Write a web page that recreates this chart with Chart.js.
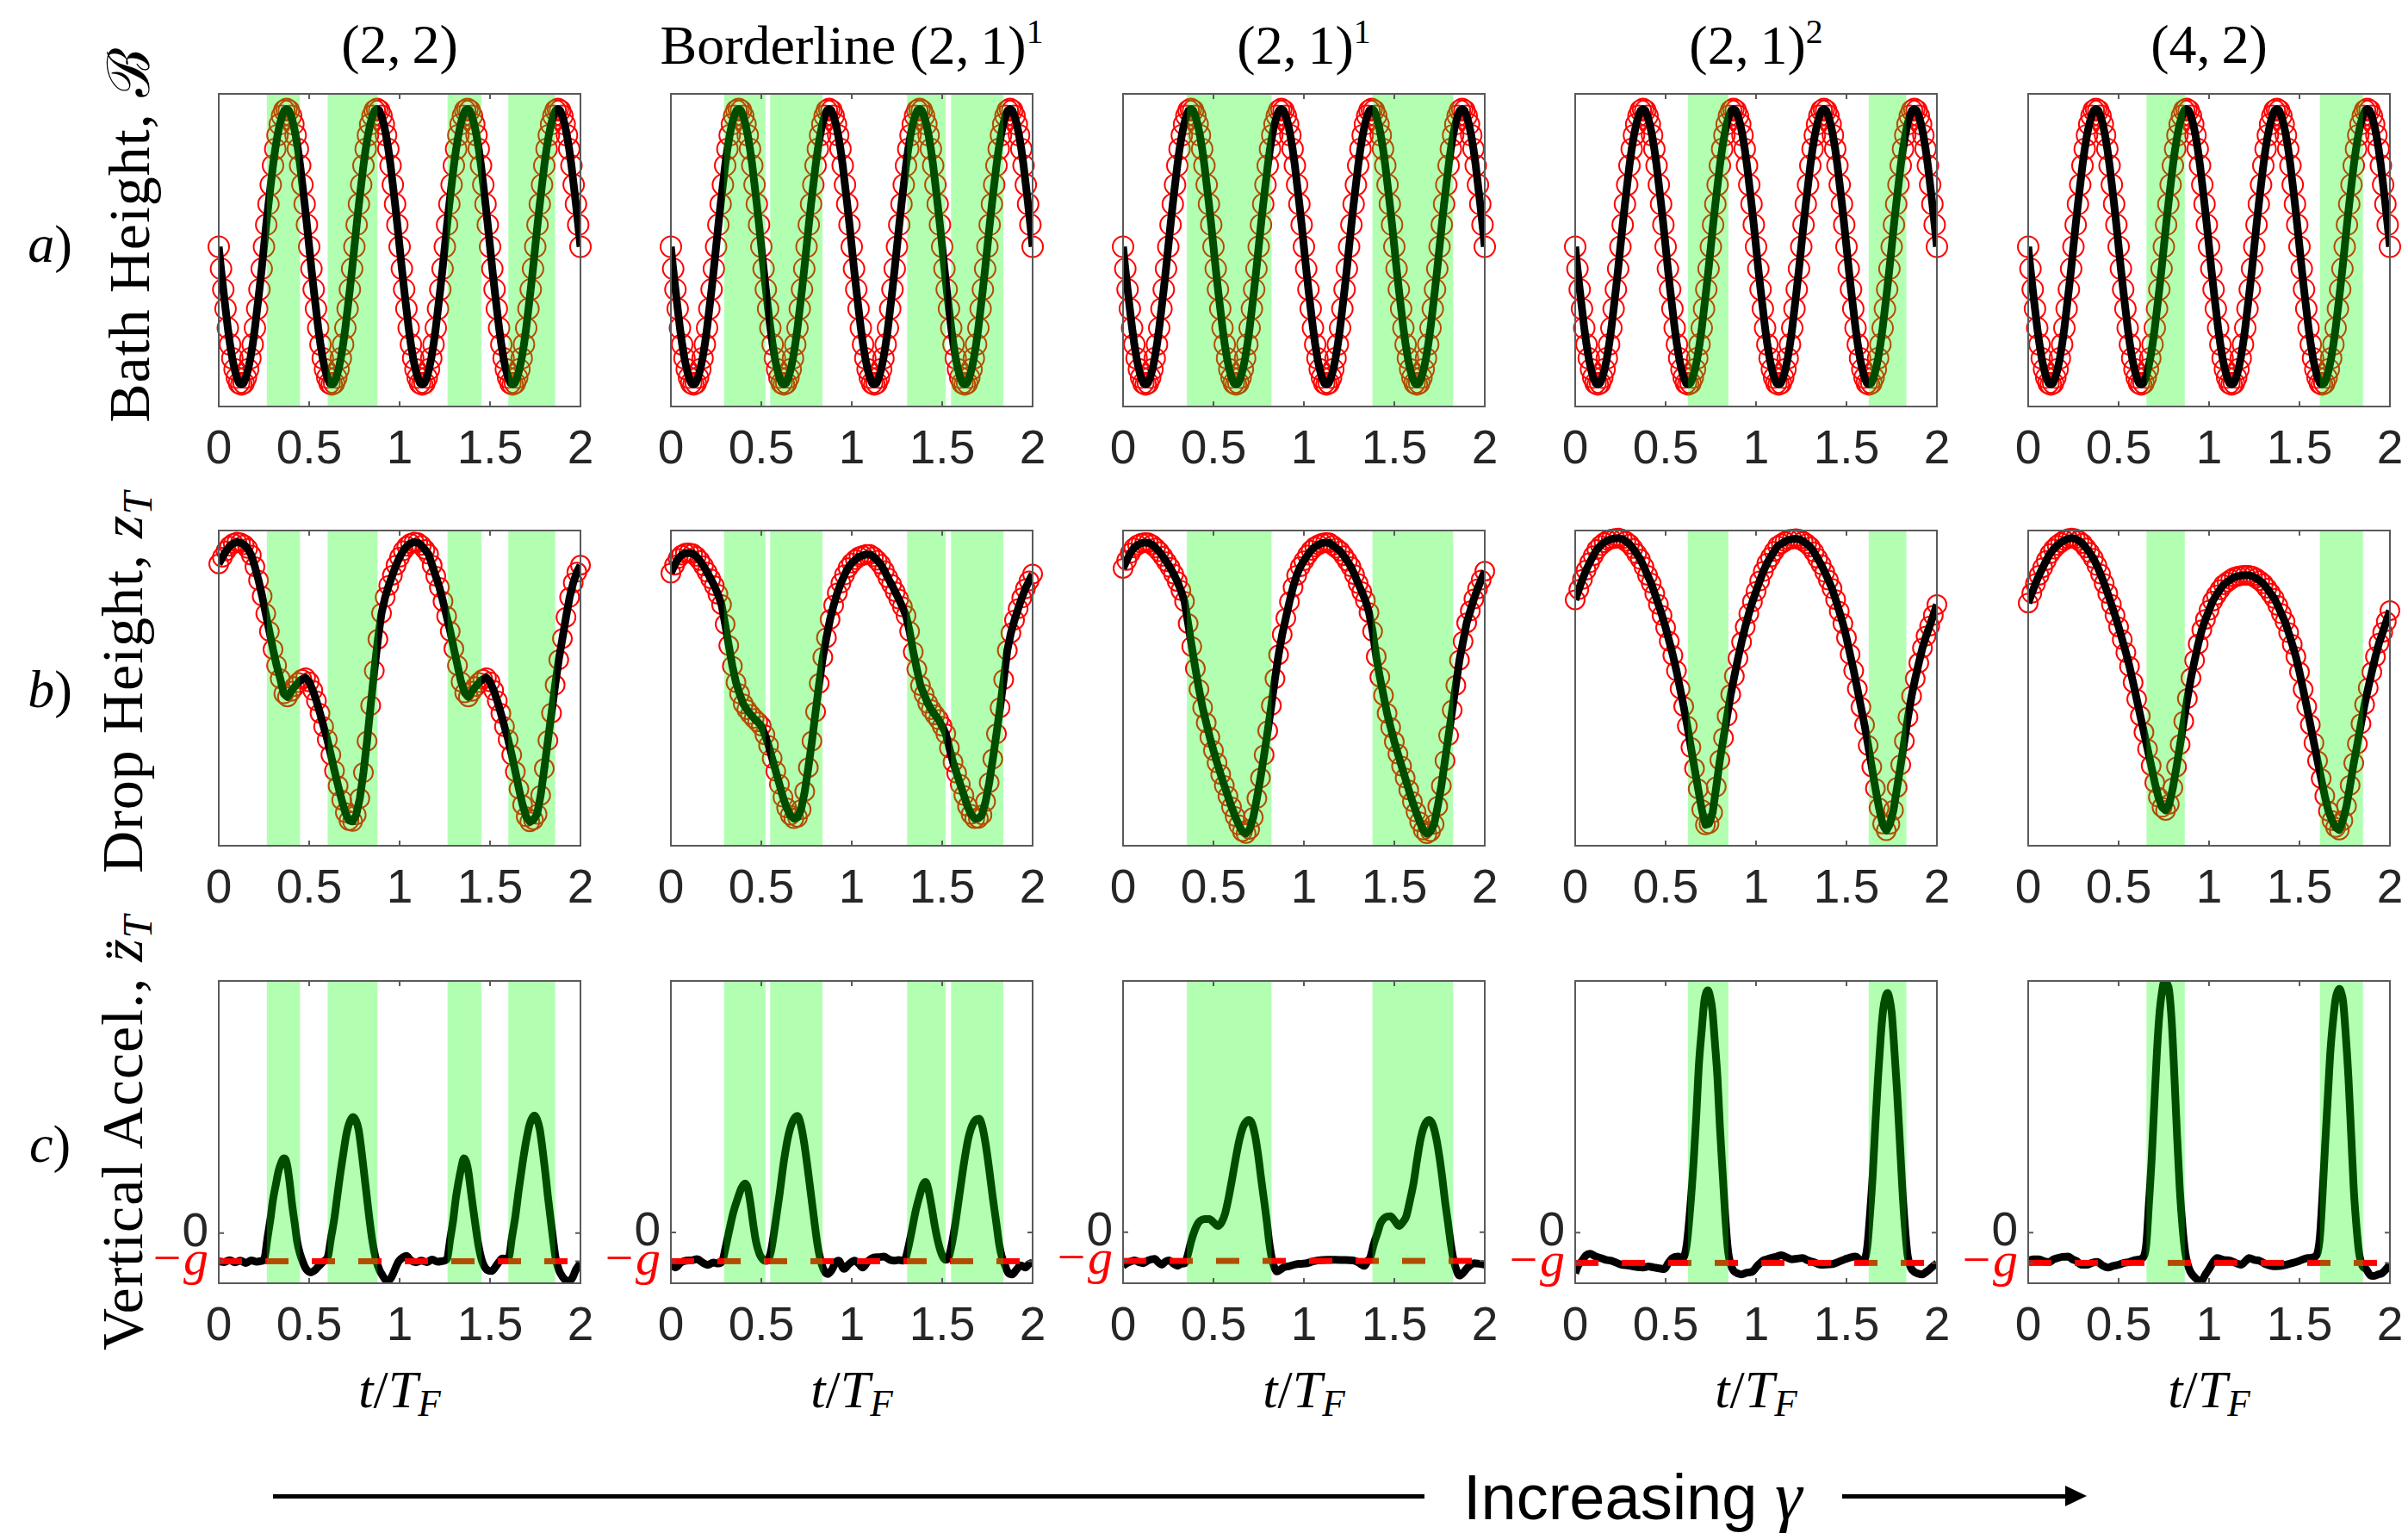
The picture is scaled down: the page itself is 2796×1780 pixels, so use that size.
<!DOCTYPE html>
<html>
<head>
<meta charset="utf-8">
<script src="https://cdn.jsdelivr.net/npm/chart.js@4.4.1/dist/chart.umd.min.js"></script>
<style>
  html, body { margin: 0; padding: 0; background: #fff; }
  body { position: relative; width: 2796px; height: 1780px; overflow: hidden; }
  canvas { position: absolute; }
  .lx { position: absolute; font-family: "Liberation Serif", "DejaVu Serif", serif; color: #000; white-space: nowrap; transform: translate(-50%, -50%); }
  .title { top: 52px; font-size: 64px; }
  .title sup { font-size: 0.62em; vertical-align: 0.6em; }
  .rowlab { left: 58px; font-size: 62px; }
  .ylab { font-size: 68px; letter-spacing: 1px; transform: translate(-50%, -50%) rotate(-90deg); }
  .ylab sub, .xlab sub { font-size: 0.7em; vertical-align: -0.25em; }
  .xlab { top: 1616px; font-size: 62px; }
  .bar { position: absolute; background: #000; height: 5px; }
</style>
</head>
<body>
<div class="lx rowlab" style="top:283px"><i>a</i>)</div>
<div class="lx rowlab" style="top:800px"><i>b</i>)</div>
<div class="lx rowlab" style="top:1328px"><i>c</i>)</div>
<div class="lx ylab" style="left:146px; top:273px">Bath Height, ℬ</div>
<div class="lx ylab" style="left:145px; top:792px">Drop Height, <i>z</i><sub><i>T</i></sub></div>
<div class="lx ylab" style="left:145px; top:1315px">Vertical Accel., <i>z&#776;</i><sub><i>T</i></sub></div>

<div class="bar" style="left:317px; top:1735px; width:1337px"></div>
<div style="position:absolute; left:1699px; top:1700px; font-family:'Liberation Sans', Arial, sans-serif; font-size:74px; line-height:74px; white-space:nowrap">Increasing <span style="font-family:'Liberation Serif', serif; font-style:italic; font-size:80px">γ</span></div>
<div class="bar" style="left:2139px; top:1735px; width:262px"></div>
<div style="position:absolute; left:2398px; top:1725px; width:0; height:0; border-left:25px solid #000; border-top:12px solid transparent; border-bottom:12px solid transparent"></div>

<script>
// ---- data ----
const titles = ['(2,&thinsp;2)', 'Borderline (2,&thinsp;1)<sup>1</sup>', '(2,&thinsp;1)<sup>1</sup>', '(2,&thinsp;1)<sup>2</sup>', '(4,&thinsp;2)'];
const xTicks = [0, 0.5, 1, 1.5, 2];
const accelTicks = [-1, 0];   // -g and 0, in units of g
const gravityLevel = -1;

// contact intervals (green bands), t/T_F
const contact1 = [[0.266, 0.449], [0.602, 0.878], [1.265, 1.452], [1.601, 1.860]];
const contact2 = [[0.294, 0.523], [0.549, 0.838], [1.306, 1.519], [1.549, 1.838]];
const contact3 = [[0.353, 0.821], [1.379, 1.825]];
const contact4 = [[0.623, 0.847], [1.623, 1.831]];
const contact5 = [[0.654, 0.866], [1.613, 1.851]];

// bath height (same drive in every column)
const bathT = [0,0.0125,0.025,0.0375,0.05,0.0625,0.075,0.0875,0.1,0.1125,0.125,0.1375,0.15,0.1625,0.175,0.1875,0.2,0.2125,0.225,0.2375,
  0.25,0.2625,0.275,0.2875,0.3,0.3125,0.325,0.3375,0.35,0.3625,0.375,0.3875,0.4,0.4125,0.425,0.4375,0.45,0.4625,0.475,0.4875,
  0.5,0.5125,0.525,0.5375,0.55,0.5625,0.575,0.5875,0.6,0.6125,0.625,0.6375,0.65,0.6625,0.675,0.6875,0.7,0.7125,0.725,0.7375,
  0.75,0.7625,0.775,0.7875,0.8,0.8125,0.825,0.8375,0.85,0.8625,0.875,0.8875,0.9,0.9125,0.925,0.9375,0.95,0.9625,0.975,0.9875,
  1,1.0125,1.025,1.0375,1.05,1.0625,1.075,1.0875,1.1,1.1125,1.125,1.1375,1.15,1.1625,1.175,1.1875,1.2,1.2125,1.225,1.2375,
  1.25,1.2625,1.275,1.2875,1.3,1.3125,1.325,1.3375,1.35,1.3625,1.375,1.3875,1.4,1.4125,1.425,1.4375,1.45,1.4625,1.475,1.4875,
  1.5,1.5125,1.525,1.5375,1.55,1.5625,1.575,1.5875,1.6,1.6125,1.625,1.6375,1.65,1.6625,1.675,1.6875,1.7,1.7125,1.725,1.7375,
  1.75,1.7625,1.775,1.7875,1.8,1.8125,1.825,1.8375,1.85,1.8625,1.875,1.8875,1.9,1.9125,1.925,1.9375,1.95,1.9625,1.975,1.9875,2];
const bath = [0,-0.16,-0.31,-0.45,-0.59,-0.71,-0.81,-0.89,-0.95,-0.99,-1,-0.99,-0.95,-0.89,-0.81,-0.71,-0.59,-0.45,-0.31,-0.16,
  0,0.16,0.31,0.45,0.59,0.71,0.81,0.89,0.95,0.99,1,0.99,0.95,0.89,0.81,0.71,0.59,0.45,0.31,0.16,
  0,-0.16,-0.31,-0.45,-0.59,-0.71,-0.81,-0.89,-0.95,-0.99,-1,-0.99,-0.95,-0.89,-0.81,-0.71,-0.59,-0.45,-0.31,-0.16,
  0,0.16,0.31,0.45,0.59,0.71,0.81,0.89,0.95,0.99,1,0.99,0.95,0.89,0.81,0.71,0.59,0.45,0.31,0.16,
  0,-0.16,-0.31,-0.45,-0.59,-0.71,-0.81,-0.89,-0.95,-0.99,-1,-0.99,-0.95,-0.89,-0.81,-0.71,-0.59,-0.45,-0.31,-0.16,
  0,0.16,0.31,0.45,0.59,0.71,0.81,0.89,0.95,0.99,1,0.99,0.95,0.89,0.81,0.71,0.59,0.45,0.31,0.16,
  0,-0.16,-0.31,-0.45,-0.59,-0.71,-0.81,-0.89,-0.95,-0.99,-1,-0.99,-0.95,-0.89,-0.81,-0.71,-0.59,-0.45,-0.31,-0.16,
  0,0.16,0.31,0.45,0.59,0.71,0.81,0.89,0.95,0.99,1,0.99,0.95,0.89,0.81,0.71,0.59,0.45,0.31,0.16,0];

// drop height (normalised to each panel's frame)
const dropT = [0,0.02,0.04,0.06,0.08,0.1,0.12,0.14,0.16,0.18,0.2,0.22,0.24,0.26,0.28,0.3,0.32,0.34,0.36,0.38,
  0.4,0.42,0.44,0.46,0.48,0.5,0.52,0.54,0.56,0.58,0.6,0.62,0.64,0.66,0.68,0.7,0.72,0.74,0.76,0.78,
  0.8,0.82,0.84,0.86,0.88,0.9,0.92,0.94,0.96,0.98,1,1.02,1.04,1.06,1.08,1.1,1.12,1.14,1.16,1.18,
  1.2,1.22,1.24,1.26,1.28,1.3,1.32,1.34,1.36,1.38,1.4,1.42,1.44,1.46,1.48,1.5,1.52,1.54,1.56,1.58,
  1.6,1.62,1.64,1.66,1.68,1.7,1.72,1.74,1.76,1.78,1.8,1.82,1.84,1.86,1.88,1.9,1.92,1.94,1.96,1.98,2];
const drop1 = [.894,.915,.935,.950,.959,.963,.961,.955,.943,.922, .885,.842,.792,.736,.680,.623,.572,.530,.482,.472,
  .490,.505,.518,.528,.533,.520,.493,.460,.420,.378, .337,.288,.238,.190,.145,.105,.080,.077,.098,.150,
  .232,.332,.445,.555,.655,.738,.788,.826,.858,.890, .915,.936,.950,.959,.963,.962,.953,.940,.925,.890,
  .855,.820,.775,.728,.680,.625,.572,.520,.485,.472, .490,.505,.518,.528,.533,.520,.493,.460,.420,.378,
  .337,.288,.235,.180,.130,.092,.076,.082,.100,.160, .245,.334,.421,.510,.590,.657,.725,.788,.834,.868,.890];
const drop2 = [.865,.890,.911,.922,.928,.929,.927,.918,.905,.888, .868,.847,.825,.798,.765,.703,.635,.570,.518,.482,
  .450,.432,.417,.404,.393,.380,.352,.318,.277,.236, .195,.154,.120,.097,.086,.090,.115,.172,.248,.332,
  .425,.515,.598,.660,.718,.763,.802,.833,.859,.882, .897,.908,.917,.921,.924,.924,.917,.906,.893,.873,
  .850,.829,.806,.783,.758,.730,.680,.615,.560,.508, .480,.452,.432,.415,.400,.379,.355,.310,.265,.230,
  .195,.160,.125,.100,.086,.087,.098,.140,.200,.275, .355,.438,.527,.620,.675,.716,.752,.786,.815,.840,.862];
const drop3 = [.880,.905,.928,.945,.954,.960,.962,.961,.955,.945, .933,.918,.901,.883,.862,.838,.810,.775,.705,.632,
  .562,.496,.438,.390,.344,.302,.263,.226,.191,.157, .123,.093,.066,.045,.039,.052,.090,.150,.215,.288,
  .365,.445,.530,.606,.670,.722,.774,.820,.858,.885, .904,.922,.937,.948,.955,.960,.962,.961,.953,.944,
  .935,.920,.903,.885,.860,.832,.806,.778,.740,.680, .600,.535,.477,.420,.375,.330,.291,.253,.215,.177,
  .140,.107,.076,.050,.038,.045,.068,.125,.190,.270, .350,.430,.509,.589,.648,.707,.745,.783,.815,.843,.871];
const drop4 = [.780,.813,.845,.874,.898,.920,.940,.952,.962,.969, .973,.975,.976,.973,.966,.957,.943,.926,.909,.885,
  .858,.833,.800,.766,.731,.692,.649,.604,.555,.498, .442,.380,.312,.245,.180,.115,.066,.070,.105,.187,
  .272,.342,.411,.480,.538,.594,.646,.694,.736,.774, .807,.840,.870,.896,.915,.934,.951,.958,.965,.971,
  .973,.974,.972,.966,.958,.948,.932,.912,.892,.868, .843,.816,.781,.744,.705,.660,.607,.555,.498,.440,
  .383,.318,.250,.182,.120,.069,.048,.068,.113,.185, .257,.332,.408,.475,.530,.580,.627,.665,.697,.731,.765];
const drop5 = [.770,.801,.831,.858,.882,.905,.926,.941,.953,.962, .969,.974,.976,.974,.968,.959,.945,.930,.912,.889,
  .862,.832,.800,.766,.731,.694,.654,.613,.569,.518, .465,.412,.360,.307,.254,.200,.154,.122,.112,.132,
  .184,.250,.321,.395,.467,.532,.588,.640,.685,.718, .747,.776,.795,.812,.828,.837,.845,.852,.855,.857,
  .858,.858,.855,.849,.841,.831,.817,.801,.785,.762, .736,.711,.676,.639,.600,.551,.496,.441,.384,.326,
  .269,.213,.158,.110,.080,.058,.050,.080,.126,.192, .262,.323,.387,.448,.501,.551,.600,.643,.677,.711,.746];

// vertical acceleration [t/T_F, value in g]
const accel1 = [[0,-1.0],[0.03,-1.03],[0.06,-0.96],[0.09,-1.04],[0.12,-0.98],[0.15,-1.06],[0.18,-0.97],[0.21,-1.02],[0.235,-0.99],[0.252,-0.91],
  [0.27,-0.15],[0.287,0.56],[0.3,1.2],[0.316,1.74],[0.33,2.2],[0.346,2.52],[0.36,2.67],[0.37,2.62],[0.381,2.32],[0.393,1.75],[0.405,1.05],
  [0.42,0.35],[0.434,-0.32],[0.45,-0.75],[0.464,-1.01],[0.48,-1.25],[0.493,-1.35],[0.508,-1.4],[0.525,-1.35],[0.552,-1.18],[0.581,-1.0],
  [0.595,-0.93],[0.605,-0.8],[0.62,-0.2],[0.64,0.56],[0.655,1.3],[0.67,2.03],[0.688,2.8],[0.705,3.5],[0.725,3.98],[0.743,4.14],[0.758,4.02],
  [0.773,3.7],[0.788,3.0],[0.802,2.23],[0.817,1.4],[0.832,0.56],[0.85,-0.3],[0.87,-0.96],[0.888,-1.3],[0.905,-1.5],[0.92,-1.65],[0.935,-1.7],
  [0.95,-1.62],[0.964,-1.45],[0.98,-1.2],[0.994,-1.01],[1.015,-0.88],[1.038,-0.81],[1.06,-0.96],[1.09,-1.04],[1.12,-0.98],[1.15,-1.03],
  [1.18,-0.94],[1.21,-1.02],[1.24,-0.99],[1.262,-0.92],[1.28,-0.2],[1.297,0.5],[1.31,1.2],[1.325,1.8],[1.34,2.3],[1.356,2.67],[1.368,2.55],
  [1.38,2.2],[1.392,1.6],[1.405,0.95],[1.42,0.25],[1.435,-0.4],[1.456,-1.0],[1.475,-1.25],[1.49,-1.33],[1.509,-1.35],[1.53,-1.2],[1.55,-1.02],
  [1.568,-0.9],[1.59,-0.92],[1.606,-0.82],[1.62,-0.2],[1.64,0.6],[1.66,1.6],[1.68,2.5],[1.7,3.3],[1.72,3.9],[1.745,4.19],[1.76,4.05],
  [1.775,3.7],[1.79,3.0],[1.805,2.2],[1.82,1.3],[1.835,0.5],[1.85,-0.3],[1.863,-0.9],[1.88,-1.3],[1.9,-1.55],[1.92,-1.68],[1.937,-1.7],
  [1.955,-1.6],[1.975,-1.3],[2.0,-1.06]];
const accel2 = [[0,-1.12],[0.025,-1.22],[0.055,-1.05],[0.085,-0.98],[0.115,-0.97],[0.144,-0.93],[0.175,-1.05],[0.203,-1.13],[0.235,-1.05],
  [0.262,-1.08],[0.286,-0.97],[0.3,-0.6],[0.32,0.0],[0.345,0.7],[0.37,1.2],[0.39,1.55],[0.41,1.71],[0.425,1.55],[0.44,1.0],[0.455,0.3],
  [0.47,-0.3],[0.49,-0.75],[0.51,-0.95],[0.525,-0.99],[0.54,-0.92],[0.555,-0.6],[0.575,0.2],[0.6,1.3],[0.625,2.5],[0.65,3.4],[0.675,3.9],
  [0.699,4.07],[0.715,3.85],[0.735,3.2],[0.755,2.3],[0.775,1.3],[0.795,0.3],[0.81,-0.4],[0.825,-0.9],[0.845,-1.3],[0.867,-1.45],[0.89,-1.3],
  [0.91,-1.05],[0.927,-0.98],[0.957,-1.27],[0.985,-1.1],[1.016,-0.98],[1.04,-1.1],[1.06,-1.22],[1.09,-1.0],[1.119,-0.88],[1.15,-0.86],
  [1.178,-0.84],[1.21,-0.95],[1.237,-0.98],[1.26,-0.96],[1.281,-0.98],[1.296,-0.92],[1.31,-0.6],[1.33,0.0],[1.355,0.8],[1.378,1.35],
  [1.395,1.68],[1.408,1.76],[1.422,1.55],[1.44,0.95],[1.46,0.2],[1.48,-0.4],[1.5,-0.8],[1.517,-0.95],[1.532,-0.92],[1.547,-0.6],[1.57,0.2],
  [1.595,1.3],[1.62,2.4],[1.645,3.3],[1.675,3.85],[1.704,3.97],[1.72,3.75],[1.74,3.1],[1.76,2.2],[1.78,1.2],[1.8,0.3],[1.815,-0.4],
  [1.83,-0.85],[1.845,-1.1],[1.865,-1.4],[1.887,-1.46],[1.91,-1.3],[1.935,-1.15],[1.96,-1.22],[1.98,-1.1],[2.0,-1.05]];
const accel3 = [[0,-1.17],[0.03,-1.05],[0.064,-0.98],[0.09,-1.05],[0.111,-1.08],[0.14,-0.98],[0.175,-0.93],[0.195,-1.05],[0.215,-1.13],
  [0.235,-1.02],[0.254,-0.98],[0.28,-1.1],[0.302,-1.17],[0.322,-1.1],[0.342,-1.08],[0.358,-0.79],[0.375,-0.35],[0.397,0.08],[0.413,0.3],
  [0.429,0.41],[0.45,0.46],[0.477,0.46],[0.5,0.35],[0.525,0.22],[0.545,0.35],[0.564,0.65],[0.585,1.25],[0.604,1.9],[0.625,2.65],[0.644,3.25],
  [0.665,3.7],[0.696,3.92],[0.713,3.8],[0.731,3.35],[0.747,2.7],[0.763,1.9],[0.78,1.1],[0.795,0.37],[0.807,-0.3],[0.819,-0.79],[0.835,-1.2],
  [0.851,-1.37],[0.87,-1.3],[0.89,-1.22],[0.92,-1.18],[0.954,-1.12],[0.985,-1.1],[1.017,-1.08],[1.05,-1.02],[1.081,-0.98],[1.13,-0.96],
  [1.176,-0.96],[1.22,-0.97],[1.272,-0.98],[1.3,-1.05],[1.335,-1.17],[1.352,-1.0],[1.367,-0.88],[1.387,-0.4],[1.407,-0.02],[1.423,0.3],
  [1.439,0.46],[1.46,0.55],[1.479,0.56],[1.5,0.42],[1.526,0.22],[1.546,0.35],[1.566,0.56],[1.586,1.1],[1.606,1.71],[1.625,2.5],[1.645,3.25],
  [1.668,3.75],[1.693,3.92],[1.713,3.75],[1.733,3.25],[1.75,2.6],[1.765,1.9],[1.78,1.1],[1.796,0.37],[1.812,-0.4],[1.828,-0.98],[1.845,-1.35],
  [1.86,-1.51],[1.88,-1.42],[1.9,-1.27],[1.92,-1.15],[1.94,-1.08],[1.97,-1.1],[2.0,-1.13]];
const accel4 = [[0,-1.34],[0.015,-1.1],[0.038,-0.93],[0.06,-0.75],[0.082,-0.7],[0.11,-0.78],[0.141,-0.84],[0.17,-0.9],[0.2,-0.93],[0.23,-1.0],
  [0.258,-1.06],[0.29,-1.08],[0.317,-1.11],[0.345,-1.14],[0.376,-1.15],[0.405,-1.12],[0.435,-1.15],[0.465,-1.18],[0.493,-1.2],[0.515,-1.0],
  [0.537,-0.84],[0.567,-0.79],[0.596,-0.84],[0.617,-0.38],[0.636,0.8],[0.655,2.35],[0.67,3.9],[0.684,5.53],[0.7,6.7],[0.714,7.62],[0.725,7.92],
  [0.734,7.98],[0.745,7.8],[0.758,7.35],[0.772,6.3],[0.787,5.07],[0.8,3.5],[0.816,1.89],[0.83,0.5],[0.846,-0.65],[0.86,-1.05],[0.875,-1.25],
  [0.9,-1.35],[0.919,-1.38],[0.95,-1.32],[0.978,-1.29],[1.007,-1.1],[1.037,-0.93],[1.06,-0.88],[1.081,-0.84],[1.11,-0.8],[1.14,-0.75],
  [1.17,-0.82],[1.198,-0.88],[1.227,-0.86],[1.257,-0.84],[1.287,-0.92],[1.316,-0.97],[1.345,-1.04],[1.374,-1.06],[1.403,-1.05],[1.433,-1.02],
  [1.462,-0.95],[1.492,-0.88],[1.52,-0.82],[1.551,-0.79],[1.575,-0.9],[1.595,-0.93],[1.615,-0.47],[1.63,0.6],[1.645,1.89],[1.66,3.6],
  [1.674,5.07],[1.69,6.5],[1.703,7.35],[1.715,7.75],[1.727,7.89],[1.738,7.7],[1.75,7.25],[1.765,6.0],[1.78,4.62],[1.795,3.0],[1.809,1.44],
  [1.823,0.2],[1.838,-0.75],[1.855,-1.15],[1.874,-1.29],[1.895,-1.35],[1.918,-1.38],[1.94,-1.3],[1.962,-1.2],[1.98,-1.1],[2.0,-1.02]];
const accel5 = [[0,-0.93],[0.03,-0.88],[0.059,-0.88],[0.09,-0.95],[0.118,-0.97],[0.14,-0.88],[0.162,-0.84],[0.19,-0.8],[0.221,-0.79],
  [0.245,-0.88],[0.265,-0.93],[0.295,-1.06],[0.324,-1.06],[0.352,-1.0],[0.382,-0.97],[0.41,-1.08],[0.441,-1.15],[0.47,-1.1],[0.5,-1.06],
  [0.53,-1.0],[0.559,-0.97],[0.595,-0.9],[0.632,-0.84],[0.653,-0.38],[0.668,1.0],[0.682,2.35],[0.697,4.2],[0.712,5.98],[0.727,7.3],
  [0.741,7.98],[0.752,8.3],[0.759,8.33],[0.768,8.2],[0.779,7.98],[0.794,6.9],[0.809,5.07],[0.823,3.2],[0.838,1.44],[0.853,0.2],[0.868,-0.65],
  [0.882,-1.05],[0.897,-1.29],[0.925,-1.5],[0.956,-1.61],[0.978,-1.4],[1.0,-1.2],[1.022,-0.98],[1.044,-0.84],[1.08,-0.9],[1.118,-0.93],
  [1.147,-1.0],[1.176,-1.06],[1.2,-0.95],[1.221,-0.84],[1.25,-0.9],[1.279,-0.93],[1.316,-1.05],[1.353,-1.11],[1.39,-1.1],[1.426,-1.06],
  [1.463,-1.0],[1.5,-0.93],[1.544,-0.84],[1.588,-0.79],[1.612,-0.2],[1.627,1.2],[1.641,2.8],[1.656,4.4],[1.671,5.98],[1.686,7.0],[1.7,7.71],
  [1.711,7.95],[1.721,8.03],[1.731,7.9],[1.741,7.62],[1.756,6.5],[1.771,5.07],[1.786,3.2],[1.8,1.44],[1.815,0.2],[1.829,-0.65],[1.848,-1.1],
  [1.868,-1.2],[1.89,-1.4],[1.912,-1.43],[1.935,-1.38],[1.956,-1.34],[1.98,-1.2],[2.0,-1.06]];

// y limits of each row / panel
const bathRange = [-1.16, 1.11];
const dropRange = [0, 1];
const accelRange = [[-1.785, 8.99], [-1.77, 8.78], [-1.78, 8.78], [-1.67, 8.29], [-1.67, 8.29]];

// ---- layout ----
const plotW = 420;
const colLeft = [254, 779, 1304, 1829, 2355];
const rowBox = { bath: [109, 472], drop: [616, 982], accel: [1124, 1490] };
const padL = 110, padT = 30, padR = 40, axisH = 90;

Chart.defaults.font.family = '"Liberation Sans", Arial, sans-serif';
Chart.defaults.color = '#262626';

function toPoints(ts, vs) { return ts.map((t, i) => ({ x: t, y: vs[i] })); }
function pairPoints(p) { return p.map(([x, y]) => ({ x, y })); }

// green contact bands drawn over the data, then the box and inner ticks
function framePlugin(bands, yTickVals) {
  return {
    id: 'frame',
    afterDatasetsDraw(chart) {
      const { ctx, chartArea: a } = chart;
      const x = chart.scales.x, y = chart.scales.y;
      ctx.save();
      ctx.fillStyle = 'rgba(0,255,0,0.3)';
      bands.forEach(([s, e]) => {
        const x0 = x.getPixelForValue(s), x1 = x.getPixelForValue(e);
        ctx.fillRect(x0, a.top, x1 - x0, a.bottom - a.top);
      });
      ctx.strokeStyle = '#5a5a5a';
      ctx.lineWidth = 2;
      ctx.strokeRect(a.left, a.top, a.right - a.left, a.bottom - a.top);
      ctx.beginPath();
      xTicks.forEach(v => {
        const px = x.getPixelForValue(v);
        ctx.moveTo(px, a.bottom); ctx.lineTo(px, a.bottom - 6);
        ctx.moveTo(px, a.top); ctx.lineTo(px, a.top + 6);
      });
      yTickVals.forEach(v => {
        const py = y.getPixelForValue(v);
        ctx.moveTo(a.left, py); ctx.lineTo(a.left + 6, py);
        ctx.moveTo(a.right, py); ctx.lineTo(a.right - 6, py);
      });
      ctx.stroke();
      ctx.restore();
    }
  };
}

function makePanel(row, col, datasets, yRange, bands) {
  const [top, bottom] = rowBox[row];
  const withY = row === 'accel';
  const w = padL + plotW + padR, h = padT + (bottom - top) + axisH;
  const canvas = document.createElement('canvas');
  canvas.width = w; canvas.height = h;
  Object.assign(canvas.style, { left: (colLeft[col] - padL) + 'px', top: (top - padT) + 'px', width: w + 'px', height: h + 'px' });
  document.body.appendChild(canvas);
  new Chart(canvas, {
    type: 'line',
    data: { datasets },
    options: {
      responsive: false,
      animation: false,
      devicePixelRatio: 1,
      layout: { padding: { top: padT, right: padR, left: 0, bottom: 0 } },
      plugins: { legend: { display: false }, tooltip: { enabled: false } },
      scales: {
        x: {
          type: 'linear', min: 0, max: 2,
          afterBuildTicks: s => { s.ticks = xTicks.map(v => ({ value: v })); },
          afterFit: s => { s.height = axisH; },
          grid: { display: false, drawTicks: false },
          border: { display: false },
          ticks: { padding: 18, maxRotation: 0, autoSkip: false, font: { size: 55 }, color: '#262626', callback: v => String(v) }
        },
        y: {
          type: 'linear', min: yRange[0], max: yRange[1],
          afterBuildTicks: s => { s.ticks = withY ? accelTicks.map(v => ({ value: v })) : []; },
          afterFit: s => { s.width = padL; },
          grid: { display: false, drawTicks: false },
          border: { display: false },
          ticks: {
            display: withY,
            padding: 12, autoSkip: false,
            callback: v => (v === 0 ? '0' : '\u2212g'),
            color: c => (c.tick && c.tick.value === -1 ? '#ff0000' : '#262626'),
            font: c => (c.tick && c.tick.value === -1
              ? { family: '"Liberation Serif", serif', style: 'italic', size: 58 }
              : { size: 55 })
          }
        }
      }
    },
    plugins: [framePlugin(bands, withY ? accelTicks : [])]
  });
}

function curveSets(ts, vs, r) {
  return [
    { data: toPoints(ts, vs), borderColor: '#000', borderWidth: 9, pointRadius: 0, tension: 0,
      borderJoinStyle: 'round', order: 0 },
    { data: toPoints(ts, vs), showLine: false, pointRadius: r, pointBorderWidth: 2,
      pointBorderColor: '#ff0000', pointBackgroundColor: 'rgba(0,0,0,0)', clip: false, order: 1 }
  ];
}

function accelSets(pairs) {
  return [
    { data: [{ x: xTicks[0], y: gravityLevel }, { x: xTicks[xTicks.length - 1], y: gravityLevel }],
      borderColor: '#ff0000', borderWidth: 7, borderDash: [27, 27], pointRadius: 0, order: 0 },
    { data: pairPoints(pairs), borderColor: '#000', borderWidth: 9, pointRadius: 0,
      cubicInterpolationMode: 'monotone', borderJoinStyle: 'round', order: 1 }
  ];
}

const contacts = [contact1, contact2, contact3, contact4, contact5];
const drops = [drop1, drop2, drop3, drop4, drop5];
const accels = [accel1, accel2, accel3, accel4, accel5];

titles.forEach((t, i) => {
  const d = document.createElement('div');
  d.className = 'lx title';
  d.innerHTML = t;
  d.style.left = (colLeft[i] + plotW / 2) + 'px';
  document.body.appendChild(d);

  const xl = document.createElement('div');
  xl.className = 'lx xlab';
  xl.innerHTML = '<i>t</i>/<i>T</i><sub><i>F</i></sub>';
  xl.style.left = (colLeft[i] + plotW / 2) + 'px';
  document.body.appendChild(xl);

  makePanel('bath', i, curveSets(bathT, bath, 12), bathRange, contacts[i]);
  makePanel('drop', i, curveSets(dropT, drops[i], 11), dropRange, contacts[i]);
  makePanel('accel', i, accelSets(accels[i]), accelRange[i], contacts[i]);
});
</script>
</body>
</html>
